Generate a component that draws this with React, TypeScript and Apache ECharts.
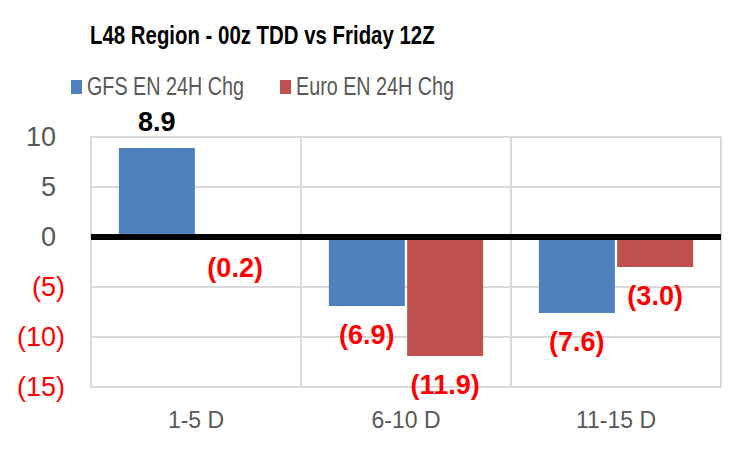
import React, { useEffect, useRef } from "react";
import * as echarts from "echarts";

const categories = ["1-5 D", "6-10 D", "11-15 D"];
const gfsValues = [8.9, -6.9, -7.6];
const euroValues = [-0.2, -11.9, -3.0];
const seriesNames = ["GFS EN 24H Chg", "Euro EN 24H Chg"];
const seriesColors = ["#4F81BD", "#C0504D"];
const titleText = "L48 Region - 00z TDD vs Friday 12Z";
const yMin = -15;
const yMax = 10;
const yInterval = 5;

const REGULAR = '"Liberation Sans", Arial, sans-serif';

const fmtVal = (v: number) => (v < 0 ? `(${Math.abs(v).toFixed(1)})` : v.toFixed(1));

const buildData = (vals: number[]) =>
  vals.map((v) => ({
    value: v,
    label: {
      position: v < 0 ? "bottom" : "top",
      distance: v < 0 ? 15 : 13,
      color: v < 0 ? "#FF0000" : "#000000",
    },
  }));

export default function App() {
  const ref = useRef<HTMLDivElement>(null);
  useEffect(() => {
    if (!ref.current) return;
    const chart = echarts.init(ref.current, null, { renderer: "svg" });
    const labelCommon = {
      show: true,
      fontFamily: REGULAR,
      fontSize: 27,
      fontWeight: "bold",
      formatter: (p: any) => fmtVal(p.value),
    };
    const legendX = [71, 280];
    const legendGraphics = seriesNames.map((name, i) => ({
      type: "group",
      children: [
        {
          type: "rect",
          shape: { x: legendX[i], y: 80, width: 11, height: 14 },
          style: { fill: seriesColors[i] },
        },
        {
          type: "text",
          x: legendX[i] + 16,
          y: 87,
          scaleX: 0.79,
          style: {
            text: name,
            fill: "#595959",
            font: `25px ${REGULAR}`,
            textVerticalAlign: "middle",
            textAlign: "left",
          },
        },
      ],
    }));
    chart.setOption({
      animation: false,
      backgroundColor: "#ffffff",
      legend: { show: false, data: seriesNames },
      graphic: [
        {
          type: "text",
          x: 90,
          y: 35,
          scaleX: 0.785,
          style: {
            text: titleText,
            fill: "#000000",
            font: `bold 26px ${REGULAR}`,
            textVerticalAlign: "middle",
            textAlign: "left",
          },
        },
        ...legendGraphics,
      ],
      grid: { left: 91, top: 137, right: 22, bottom: 63, containLabel: false },
      xAxis: {
        type: "category",
        data: categories,
        axisLine: { show: true, lineStyle: { color: "#D9D9D9", width: 2 } },
        axisTick: { show: false },
        splitLine: { show: true, lineStyle: { color: "#D9D9D9", width: 2 } },
        axisLabel: { fontFamily: REGULAR, fontSize: 23, color: "#595959", margin: 21 },
      },
      yAxis: {
        type: "value",
        min: yMin,
        max: yMax,
        interval: yInterval,
        axisLine: { show: true, lineStyle: { color: "#D9D9D9", width: 2 } },
        axisTick: { show: false },
        splitLine: { show: true, lineStyle: { color: "#D9D9D9", width: 2 } },
        axisLabel: {
          margin: 26,
          fontFamily: REGULAR,
          fontSize: 27,
          formatter: (v: number) => (v < 0 ? `{n|(${Math.abs(v)})}` : `{p|${v}}`),
          rich: {
            n: { color: "#FF0000", fontFamily: REGULAR, fontSize: 27 },
            p: { color: "#595959", fontFamily: REGULAR, fontSize: 27, padding: [0, 9, 0, 0] },
          },
        },
      },
      series: [
        {
          name: seriesNames[0],
          type: "bar",
          data: buildData(gfsValues),
          barWidth: 76,
          barGap: "3%",
          itemStyle: { color: seriesColors[0] },
          label: labelCommon,
          markLine: {
            silent: true,
            symbol: ["none", "none"],
            label: { show: false },
            lineStyle: { color: "#000000", width: 6, type: "solid" },
            data: [{ yAxis: 0 }],
            z: 10,
          },
        },
        {
          name: seriesNames[1],
          type: "bar",
          data: buildData(euroValues),
          barWidth: 76,
          barGap: "3%",
          itemStyle: { color: seriesColors[1] },
          label: labelCommon,
        },
      ],
    });
    return () => chart.dispose();
  }, []);
  return (
    <div
      ref={ref}
      style={{ position: "fixed", left: 0, top: 0, width: 743, height: 450, background: "#fff" }}
    />
  );
}
